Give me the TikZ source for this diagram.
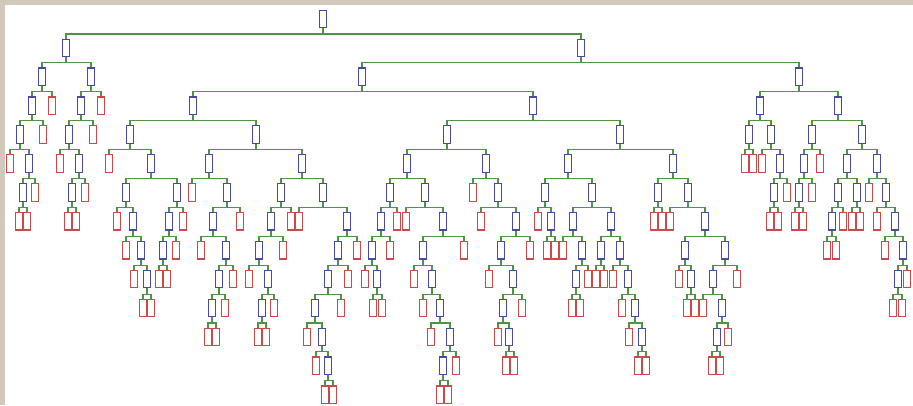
\documentclass[tikz,border=0pt]{standalone}
\definecolor{bgframe}{RGB}{210,201,188}
\definecolor{nblue}{RGB}{72,76,160}
\definecolor{nred}{RGB}{205,72,72}
\definecolor{egreen}{RGB}{78,148,68}
\tikzset{
  bn/.style={draw=nblue,fill=white,line width=1.2pt,minimum width=7pt,minimum height=17.5pt,inner sep=0pt},
  rn/.style={draw=nred,fill=white,line width=1.2pt,minimum width=7pt,minimum height=17.5pt,inner sep=0pt},
  edge/.style={draw=egreen,line width=1.1pt}
}
\newcommand\tnB[2]{\node[bn] (n#1-#2) at (#2,{-19-28.9*#1}) {};}
\newcommand\tnR[2]{\node[rn] (n#1-#2) at (#2,{-19-28.9*#1}) {};}
\newcommand\tnE[5]{\draw[edge] (n#1-#2.south) -- ++(0,-5.6) -| (n#3-#4.north);
  \draw[edge] (n#1-#2.south) -- ++(0,-5.6) -| (n#3-#5.north);}
\begin{document}
\begin{tikzpicture}[x=1pt,y=1pt]
\useasboundingbox (0,0) rectangle (913,-405);
\fill[bgframe] (0,0) rectangle (913,-405);
\fill[white] (5,-5) rectangle (913,-405);
% level 0
\tnB{0}{323}
% level 1
\tnB{1}{66}\tnB{1}{581}
% level 2
\tnB{2}{42}\tnB{2}{91}\tnB{2}{362}\tnB{2}{799}
% level 3
\tnB{3}{32}\tnR{3}{52}\tnB{3}{81}\tnR{3}{101}\tnB{3}{193}\tnB{3}{533}\tnB{3}{760}\tnB{3}{838}
% level 4
\tnB{4}{20}\tnR{4}{43}\tnB{4}{69}\tnR{4}{93}\tnB{4}{130}\tnB{4}{256}\tnB{4}{447}\tnB{4}{620}
\tnB{4}{749}\tnB{4}{771}\tnB{4}{812}\tnB{4}{862}
% level 5
\tnR{5}{10}\tnB{5}{29}\tnR{5}{60}\tnB{5}{79}\tnR{5}{109}\tnB{5}{151}\tnB{5}{209}\tnB{5}{302}
\tnB{5}{407}\tnB{5}{486}\tnB{5}{568}\tnB{5}{673}\tnR{5}{745}\tnR{5}{753}\tnR{5}{762}\tnB{5}{780}
\tnB{5}{804}\tnR{5}{820}\tnB{5}{847}\tnB{5}{877}
% level 6
\tnB{6}{23}\tnR{6}{35}\tnB{6}{72}\tnR{6}{85}\tnB{6}{126}\tnB{6}{177}\tnR{6}{192}\tnB{6}{227}
\tnB{6}{281}\tnB{6}{323}\tnB{6}{390}\tnB{6}{425}\tnR{6}{473}\tnB{6}{498}\tnB{6}{545}\tnB{6}{592}
\tnB{6}{658}\tnB{6}{688}\tnB{6}{774}\tnR{6}{787}\tnB{6}{799}\tnR{6}{812}\tnB{6}{838}\tnB{6}{857}
\tnR{6}{869}\tnB{6}{886}
% level 7
\tnR{7}{19}\tnR{7}{27}\tnR{7}{68}\tnR{7}{76}\tnR{7}{117}\tnB{7}{133}\tnB{7}{169}\tnR{7}{183}
\tnB{7}{213}\tnR{7}{240}\tnB{7}{271}\tnR{7}{291}\tnR{7}{299}\tnB{7}{347}\tnB{7}{381}\tnR{7}{397}
\tnR{7}{406}\tnB{7}{443}\tnR{7}{481}\tnB{7}{516}\tnR{7}{538}\tnB{7}{551}\tnB{7}{573}\tnB{7}{611}
\tnR{7}{654}\tnR{7}{662}\tnR{7}{670}\tnB{7}{705}\tnR{7}{770}\tnR{7}{778}\tnR{7}{795}\tnR{7}{803}
\tnB{7}{832}\tnR{7}{843}\tnR{7}{852}\tnR{7}{860}\tnR{7}{877}\tnB{7}{895}
% level 8
\tnR{8}{126}\tnB{8}{141}\tnB{8}{163}\tnR{8}{176}\tnR{8}{201}\tnB{8}{226}\tnB{8}{259}\tnR{8}{283}
\tnB{8}{338}\tnR{8}{357}\tnB{8}{372}\tnR{8}{390}\tnB{8}{423}\tnR{8}{464}\tnB{8}{501}\tnR{8}{530}
\tnR{8}{547}\tnR{8}{555}\tnR{8}{563}\tnB{8}{582}\tnB{8}{601}\tnB{8}{620}\tnB{8}{685}\tnB{8}{725}
\tnR{8}{827}\tnR{8}{836}\tnR{8}{885}\tnB{8}{903}
% level 9
\tnR{9}{134}\tnB{9}{147}\tnR{9}{159}\tnR{9}{167}\tnB{9}{219}\tnR{9}{233}\tnR{9}{249}\tnB{9}{268}
\tnB{9}{328}\tnR{9}{348}\tnR{9}{365}\tnB{9}{377}\tnR{9}{414}\tnB{9}{432}\tnR{9}{489}\tnB{9}{513}
\tnB{9}{576}\tnR{9}{588}\tnR{9}{596}\tnR{9}{604}\tnR{9}{613}\tnB{9}{628}\tnR{9}{679}\tnB{9}{691}
\tnB{9}{713}\tnR{9}{737}\tnB{9}{898}\tnR{9}{907}
% level 10
\tnR{10}{143}\tnR{10}{151}\tnB{10}{212}\tnR{10}{225}\tnB{10}{262}\tnR{10}{274}\tnB{10}{315}\tnR{10}{341}
\tnR{10}{373}\tnR{10}{382}\tnR{10}{423}\tnB{10}{440}\tnB{10}{503}\tnR{10}{522}\tnR{10}{572}\tnR{10}{580}
\tnR{10}{622}\tnB{10}{635}\tnR{10}{687}\tnR{10}{695}\tnR{10}{703}\tnB{10}{722}\tnR{10}{893}\tnR{10}{902}
% level 11
\tnR{11}{208}\tnR{11}{216}\tnR{11}{258}\tnR{11}{266}\tnR{11}{307}\tnB{11}{322}\tnR{11}{431}\tnB{11}{450}
\tnR{11}{498}\tnB{11}{509}\tnR{11}{629}\tnB{11}{642}\tnB{11}{717}\tnR{11}{728}
% level 12
\tnR{12}{316}\tnB{12}{328}\tnB{12}{443}\tnR{12}{456}\tnR{12}{506}\tnR{12}{514}\tnR{12}{638}\tnR{12}{646}
\tnR{12}{712}\tnR{12}{720}
% level 13
\tnR{13}{325}\tnR{13}{333}\tnR{13}{440}\tnR{13}{448}
% connectors
\tnE{0}{323}{1}{66}{581}
\tnE{1}{66}{2}{42}{91}\tnE{1}{581}{2}{362}{799}
\tnE{2}{42}{3}{32}{52}\tnE{2}{91}{3}{81}{101}\tnE{2}{362}{3}{193}{533}\tnE{2}{799}{3}{760}{838}
\tnE{3}{32}{4}{20}{43}\tnE{3}{81}{4}{69}{93}\tnE{3}{193}{4}{130}{256}\tnE{3}{533}{4}{447}{620}
\tnE{3}{760}{4}{749}{771}\tnE{3}{838}{4}{812}{862}
\tnE{4}{20}{5}{10}{29}\tnE{4}{69}{5}{60}{79}\tnE{4}{130}{5}{109}{151}\tnE{4}{256}{5}{209}{302}
\tnE{4}{447}{5}{407}{486}\tnE{4}{620}{5}{568}{673}\tnE{4}{749}{5}{745}{753}\tnE{4}{771}{5}{762}{780}
\tnE{4}{812}{5}{804}{820}\tnE{4}{862}{5}{847}{877}
\tnE{5}{29}{6}{23}{35}\tnE{5}{79}{6}{72}{85}\tnE{5}{151}{6}{126}{177}\tnE{5}{209}{6}{192}{227}
\tnE{5}{302}{6}{281}{323}\tnE{5}{407}{6}{390}{425}\tnE{5}{486}{6}{473}{498}\tnE{5}{568}{6}{545}{592}
\tnE{5}{673}{6}{658}{688}\tnE{5}{780}{6}{774}{787}\tnE{5}{804}{6}{799}{812}\tnE{5}{847}{6}{838}{857}
\tnE{5}{877}{6}{869}{886}
\tnE{6}{23}{7}{19}{27}\tnE{6}{72}{7}{68}{76}\tnE{6}{126}{7}{117}{133}\tnE{6}{177}{7}{169}{183}
\tnE{6}{227}{7}{213}{240}\tnE{6}{281}{7}{271}{291}\tnE{6}{323}{7}{299}{347}\tnE{6}{390}{7}{381}{397}
\tnE{6}{425}{7}{406}{443}\tnE{6}{498}{7}{481}{516}\tnE{6}{545}{7}{538}{551}\tnE{6}{592}{7}{573}{611}
\tnE{6}{658}{7}{654}{662}\tnE{6}{688}{7}{670}{705}\tnE{6}{774}{7}{770}{778}\tnE{6}{799}{7}{795}{803}
\tnE{6}{838}{7}{832}{843}\tnE{6}{857}{7}{852}{860}\tnE{6}{886}{7}{877}{895}
\tnE{7}{133}{8}{126}{141}\tnE{7}{169}{8}{163}{176}\tnE{7}{213}{8}{201}{226}\tnE{7}{271}{8}{259}{283}
\tnE{7}{347}{8}{338}{357}\tnE{7}{381}{8}{372}{390}\tnE{7}{443}{8}{423}{464}\tnE{7}{516}{8}{501}{530}
\tnE{7}{551}{8}{547}{555}\tnE{7}{573}{8}{563}{582}\tnE{7}{611}{8}{601}{620}\tnE{7}{705}{8}{685}{725}
\tnE{7}{832}{8}{827}{836}\tnE{7}{895}{8}{885}{903}
\tnE{8}{141}{9}{134}{147}\tnE{8}{163}{9}{159}{167}\tnE{8}{226}{9}{219}{233}\tnE{8}{259}{9}{249}{268}
\tnE{8}{338}{9}{328}{348}\tnE{8}{372}{9}{365}{377}\tnE{8}{423}{9}{414}{432}\tnE{8}{501}{9}{489}{513}
\tnE{8}{582}{9}{576}{588}\tnE{8}{601}{9}{596}{604}\tnE{8}{620}{9}{613}{628}\tnE{8}{685}{9}{679}{691}
\tnE{8}{725}{9}{713}{737}\tnE{8}{903}{9}{898}{907}
\tnE{9}{147}{10}{143}{151}\tnE{9}{219}{10}{212}{225}\tnE{9}{268}{10}{262}{274}\tnE{9}{328}{10}{315}{341}
\tnE{9}{377}{10}{373}{382}\tnE{9}{432}{10}{423}{440}\tnE{9}{513}{10}{503}{522}\tnE{9}{576}{10}{572}{580}
\tnE{9}{628}{10}{622}{635}\tnE{9}{691}{10}{687}{695}\tnE{9}{713}{10}{703}{722}\tnE{9}{898}{10}{893}{902}
\tnE{10}{212}{11}{208}{216}\tnE{10}{262}{11}{258}{266}\tnE{10}{315}{11}{307}{322}\tnE{10}{440}{11}{431}{450}
\tnE{10}{503}{11}{498}{509}\tnE{10}{635}{11}{629}{642}\tnE{10}{722}{11}{717}{728}
\tnE{11}{322}{12}{316}{328}\tnE{11}{450}{12}{443}{456}\tnE{11}{509}{12}{506}{514}\tnE{11}{642}{12}{638}{646}
\tnE{11}{717}{12}{712}{720}
\tnE{12}{328}{13}{325}{333}\tnE{12}{443}{13}{440}{448}
\end{tikzpicture}
\end{document}
